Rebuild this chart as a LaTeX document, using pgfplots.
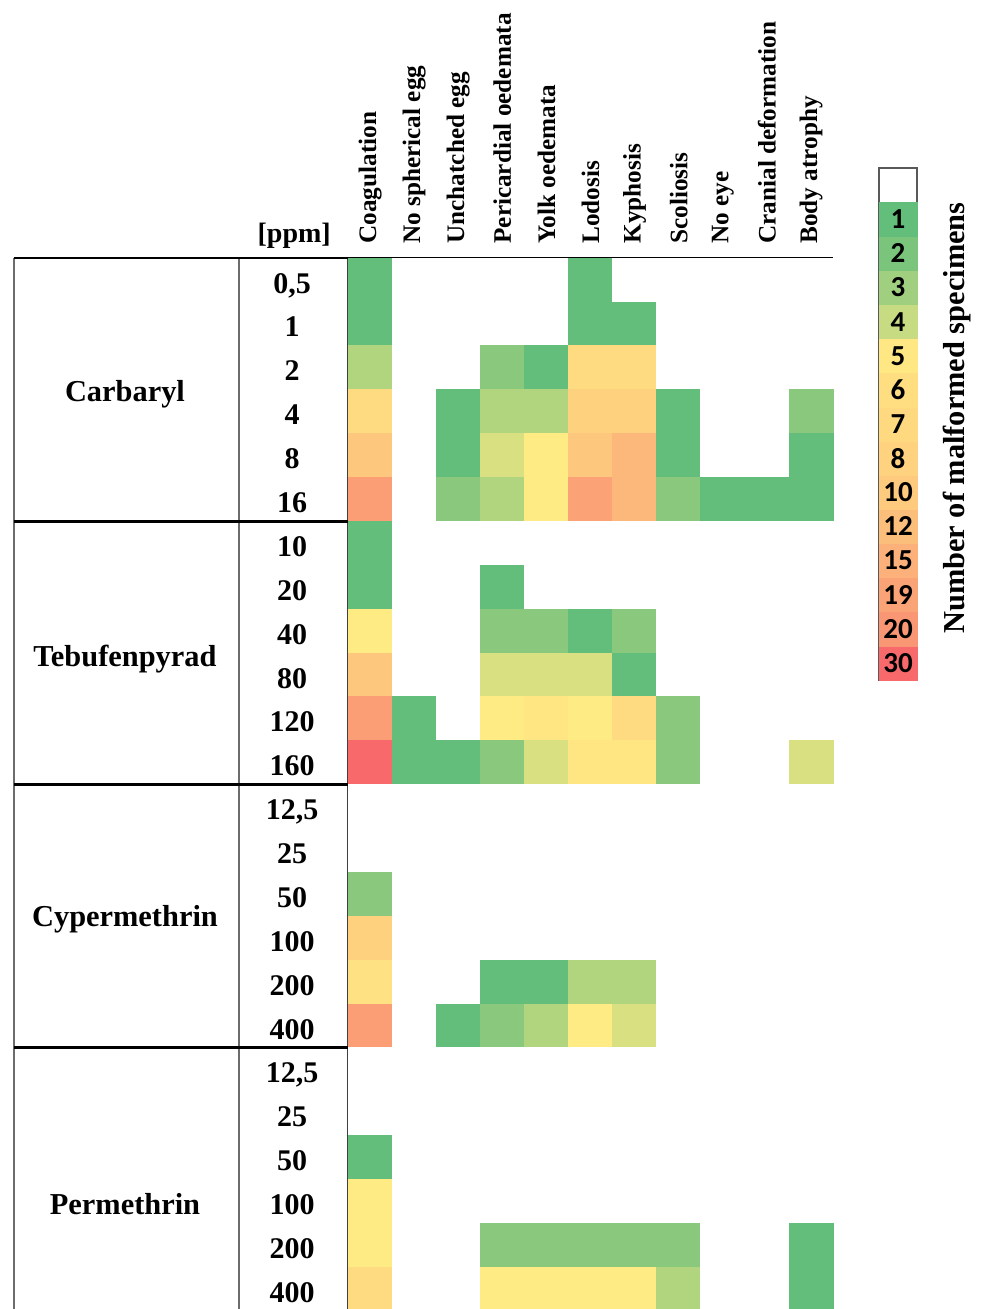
\documentclass[border=0pt]{standalone}
\usepackage{pgfplots}
\pgfplotsset{compat=1.18}
\usepackage{pgfplotstable}
\usepackage{fontspec}
\setmainfont{Liberation Serif}
\newfontfamily\carlito{Carlito}

\pgfplotsset{
  colormap={excel}{[1pt] rgb255(0pt)=(255,255,255) rgb255(1pt)=(99,190,123) rgb255(5pt)=(255,235,132) rgb255(30pt)=(248,105,107)},
  colormap={legendmap}{[1pt] rgb255(0pt)=(255,255,255) rgb255(1pt)=(99,190,123) rgb255(2pt)=(123,196,124) rgb255(3pt)=(159,207,127) rgb255(4pt)=(198,219,130) rgb255(5pt)=(255,231,132) rgb255(6pt)=(254,222,129) rgb255(7pt)=(254,217,128) rgb255(8pt)=(254,210,127) rgb255(10pt)=(253,202,126) rgb255(12pt)=(252,191,123) rgb255(15pt)=(251,177,121) rgb255(19pt)=(250,163,118) rgb255(20pt)=(249,151,116) rgb255(30pt)=(248,105,107)},
}

% rows: 0-5 Carbaryl, 6-11 Tebufenpyrad, 12-17 Cypermethrin, 18-23 Permethrin
\pgfplotstableread{
r c0 c1 c2 c3 c4 c5 c6 c7 c8 c9 c10
0 1 0 0 0 0 1 0 0 0 0 0
1 1 0 0 0 0 1 1 0 0 0 0
2 3 0 0 2 1 8 8 0 0 0 0
3 8 0 1 3 3 10 10 1 0 0 2
4 12 0 1 4 5 12 15 1 0 0 1
5 20 0 2 3 5 19 15 2 1 1 1
6 1 0 0 0 0 0 0 0 0 0 0
7 1 0 0 1 0 0 0 0 0 0 0
8 5 0 0 2 2 1 2 0 0 0 0
9 12 0 0 4 4 4 1 0 0 0 0
10 20 1 0 5 6 5 8 2 0 0 0
11 30 1 1 2 4 6 6 2 0 0 4
12 0 0 0 0 0 0 0 0 0 0 0
13 0 0 0 0 0 0 0 0 0 0 0
14 2 0 0 0 0 0 0 0 0 0 0
15 10 0 0 0 0 0 0 0 0 0 0
16 7 0 0 1 1 3 3 0 0 0 0
17 20 0 1 2 3 5 4 0 0 0 0
18 0 0 0 0 0 0 0 0 0 0 0
19 0 0 0 0 0 0 0 0 0 0 0
20 1 0 0 0 0 0 0 0 0 0 0
21 5 0 0 0 0 0 0 0 0 0 0
22 5 0 0 2 2 2 2 2 0 0 1
23 8 0 0 5 5 5 5 3 0 0 1
}\heat

% legend: position, label value
\pgfplotstableread{
y lab
0.5 30
1.5 20
2.5 19
3.5 15
4.5 12
5.5 10
6.5 8
7.5 7
8.5 6
9.5 5
10.5 4
11.5 3
12.5 2
13.5 1
}\legendtab

\begin{document}
\begin{tikzpicture}
\begin{axis}[
  name=main,
  scale only axis, width=242.5pt, height=526.5pt,
  xmin=0, xmax=11, ymin=0, ymax=24,
  clip=false,
  axis line style={draw=none},
  major tick length=0pt,
  point meta min=0, point meta max=30,
  colormap name=excel,
  xtick={0.5,1.5,...,10.5},
  xticklabels={Coagulation,No spherical egg,Unchatched egg,Pericardial oedemata,Yolk oedemata,Lodosis,Kyphosis,Scoliosis,No eye,Cranial deformation,Body atrophy},
  xticklabel pos=right,
  xticklabel style={rotate=90, anchor=west, inner xsep=7pt, inner ysep=0pt, font=\bfseries\fontsize{12.6}{12.6}\selectfont},
  ytick={0.5,1.5,...,23.5},
  yticklabels={400,200,100,50,25,{12,5},400,200,100,50,25,{12,5},160,120,80,40,20,10,16,8,4,2,1,{0,5}},
  yticklabel style={anchor=base, xshift=-28pt, yshift=-6.6pt, font=\bfseries\fontsize{15}{15}\selectfont},
]
\pgfplotsinvokeforeach{0,...,10}{
  \addplot[scatter, only marks, mark=square*, mark size=11.02pt,
    scatter/use mapped color={draw=mapped color, fill=mapped color},
    mark options={line width=0.3pt},
    every mark/.append style={yscale=0.9952},
    point meta=\thisrow{c#1}]
    table[x expr=#1+0.5, y expr=23.5-\thisrow{r}] {\heat};
}
% table rules
\draw[gray!85!black, line width=1.2pt] (axis cs:-7.575,24) -- (axis cs:-7.575,-0.2);
\draw[gray!85!black, line width=1.2pt] (axis cs:-2.472,24) -- (axis cs:-2.472,-0.2);
\draw[black!75, line width=1.2pt] (axis cs:0,24) -- (axis cs:0,-0.2);
\draw[gray!85!black, line width=1.2pt] (axis cs:11,24) -- (axis cs:11,-0.2);
\draw[black, line width=1.3pt] (axis cs:-7.575,24) -- (axis cs:11,24);
\draw[black, line width=1.3pt] (axis cs:-7.575,18) -- (axis cs:11,18);
\draw[black, line width=1.3pt] (axis cs:-7.575,12) -- (axis cs:11,12);
\draw[black, line width=1.3pt] (axis cs:-7.575,6) -- (axis cs:11,6);
% labels
\node[anchor=base, font=\bfseries\fontsize{14}{14}\selectfont] at (axis cs:-1.22,24.342) {[ppm]};
\node[anchor=base, font=\bfseries\fontsize{15.2}{15.2}\selectfont] at (axis cs:-5.058,20.725) {Carbaryl};
\node[anchor=base, font=\bfseries\fontsize{15.2}{15.2}\selectfont] at (axis cs:-5.058,14.70) {Tebufenpyrad};
\node[anchor=base, font=\bfseries\fontsize{15.2}{15.2}\selectfont] at (axis cs:-5.058,8.76) {Cypermethrin};
\node[anchor=base, font=\bfseries\fontsize{15.2}{15.2}\selectfont] at (axis cs:-5.058,2.2) {Permethrin};
\node[rotate=90, font=\bfseries\fontsize{15.2}{15.2}\selectfont] at (axis cs:13.81,20.353) {Number of malformed specimens};
\coordinate (bbA) at (axis cs:-7.893,0.046);
\coordinate (bbB) at (axis cs:14.357,29.880);
\coordinate (cbtl) at (axis cs:12.043,26.051);
\end{axis}

\begin{axis}[
  at={(cbtl)}, anchor=north west,
  scale only axis, width=19pt, height=256pt,
  xmin=0, xmax=1, ymin=0, ymax=15,
  xtick=\empty, ytick=\empty,
  axis line style={draw=none},
  clip=false,
  point meta min=0, point meta max=30,
  colormap name=legendmap,
]
\addplot[scatter, only marks, mark=square*, mark size=9.5pt,
  scatter/use mapped color={draw=mapped color, fill=mapped color},
  mark options={line width=0.3pt},
  every mark/.append style={yscale=0.898},
  point meta=\thisrow{lab}]
  table[x expr=0.5, y=y] {\legendtab};
\addplot[only marks, mark=none, draw=none,
  point meta=\thisrow{lab},
  nodes near coords={\pgfmathprintnumber[assume math mode=true]{\pgfplotspointmeta}},
  every node near coord/.style={anchor=center, text=black, inner sep=0pt, font=\carlito\bfseries\fontsize{14.5}{14.5}\selectfont}]
  table[x expr=0.5, y=y] {\legendtab};
\draw[gray!70!black, line width=0.9pt] (rel axis cs:0,0) rectangle (rel axis cs:1,1);
\end{axis}
\pgfresetboundingbox
\path[use as bounding box] (bbA) rectangle (bbB);
\end{tikzpicture}
\end{document}
